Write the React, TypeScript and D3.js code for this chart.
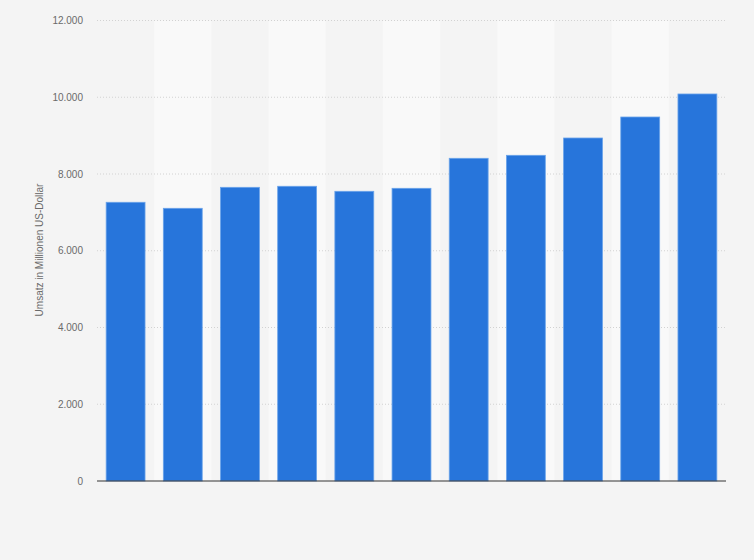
import React from "react";
import * as d3 from "d3";

const categories = ["1", "2", "3", "4", "5", "6", "7", "8", "9", "10", "11"];
const values = [7263, 7106, 7653, 7680, 7549, 7627, 8409, 8487, 8938, 9485, 10085];
const yTicks = [0, 2000, 4000, 6000, 8000, 10000, 12000];
const yTitle = "Umsatz in Millionen US-Dollar";

const W = 754;
const H = 560;
const left = 97;
const right = 726;
const top = 20.5;
const bottom = 481;

const fmt = (v: number) => d3.format(",")(v).replace(/,/g, ".");

export default function App() {
  const x = d3.scaleBand<string>().domain(categories).range([left, right]).paddingInner(0.32).paddingOuter(0.16);
  const xStripe = d3.scaleBand<string>().domain(categories).range([left, right]).padding(0);
  const y = d3.scaleLinear().domain([0, 12000]).range([bottom, top]);
  const font = "'Liberation Sans', Arial, sans-serif";
  return (
    <svg width={W} height={H} style={{ position: "absolute", left: 0, top: 0, display: "block" }}>
      <rect x={0} y={0} width={W} height={H} fill="#f4f4f4" />
      {categories.map((c, i) =>
        i % 2 === 1 ? (
          <rect key={"s" + c} x={xStripe(c)} y={top} width={xStripe.bandwidth()} height={bottom - top} fill="#f9f9f9" />
        ) : null
      )}
      {yTicks.map((t) => (
        <g key={t}>
          {t > 0 && (
            <line x1={left} x2={right} y1={y(t)} y2={y(t)} stroke="#d2d2d2" strokeWidth={1} strokeDasharray="1,2" />
          )}
          <text x={83} y={y(t)} dy="0.35em" textAnchor="end" fontSize={10} fill="#6a6a6a" fontFamily={font}>
            {fmt(t)}
          </text>
        </g>
      ))}
      {categories.map((c, i) => (
        <rect
          key={c}
          x={x(c)}
          y={y(values[i])}
          width={x.bandwidth()}
          height={bottom - y(values[i])}
          fill="#2775db"
          stroke="#6aa3ea"
          strokeWidth={0.8}
        />
      ))}
      <line x1={left} x2={right} y1={bottom} y2={bottom} stroke="#333" strokeWidth={1.2} />
      <text
        transform={`translate(43, 250) rotate(-90)`}
        textAnchor="middle"
        fontSize={10}
        fill="#6a6a6a"
        fontFamily={font}
      >
        {yTitle}
      </text>
    </svg>
  );
}
